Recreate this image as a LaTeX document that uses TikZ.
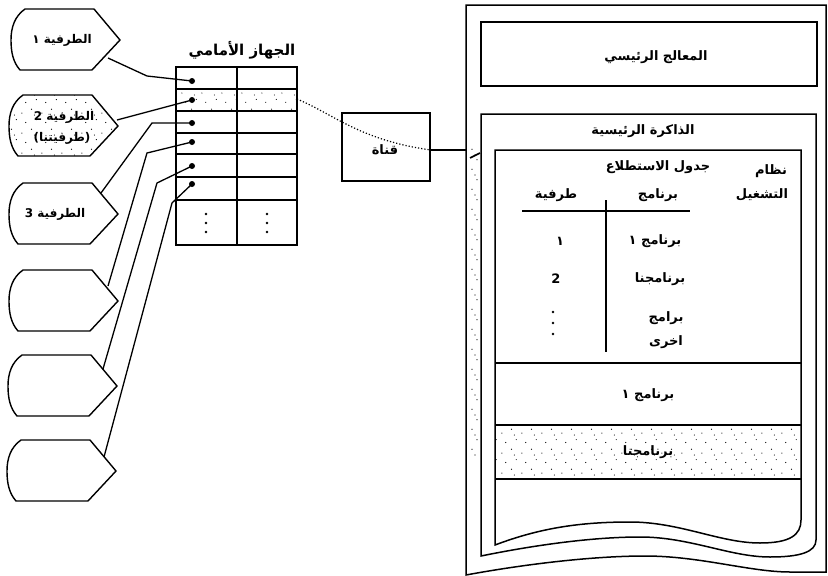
\documentclass[tikz,border=0pt]{standalone}
\usepackage{fontspec}
\usetikzlibrary{patterns}
\newfontfamily\arabicfont[Script=Arabic]{DejaVu Sans}
\TeXXeTstate=1
\newcommand{\AR}[1]{\beginR #1\endR}
\pgfdeclarepatternformonly{stipple}{\pgfqpoint{0pt}{0pt}}{\pgfqpoint{20pt}{20pt}}{\pgfqpoint{20pt}{20pt}}{%
  \pgfpathcircle{\pgfqpoint{2pt}{3pt}}{0.6pt}%
  \pgfpathcircle{\pgfqpoint{12pt}{7pt}}{0.6pt}%
  \pgfpathcircle{\pgfqpoint{6pt}{14pt}}{0.6pt}%
  \pgfpathcircle{\pgfqpoint{17pt}{17pt}}{0.6pt}%
  \pgfpathcircle{\pgfqpoint{15pt}{1pt}}{0.6pt}%
  \pgfusepath{fill}}
\tikzset{
  box/.style={draw, line width=1.5pt},
  ln/.style={line width=1.5pt},
  conn/.style={line width=1.3pt},
  lbl/.style={font=\arabicfont\bfseries\fontsize{13}{15}\selectfont, inner sep=0pt},
  tlbl/.style={font=\arabicfont\bfseries\fontsize{12}{14}\selectfont, inner sep=0pt},
  title/.style={font=\arabicfont\bfseries\fontsize{15}{18}\selectfont, inner sep=0pt},
  dotmark/.style={circle, fill, inner sep=0pt, minimum size=6pt},
  smalldot/.style={circle, fill, inner sep=0pt, minimum size=2.6pt},
  terminal/.pic={
    \draw[line width=1.4pt, pic actions] (92,-31) -- (118,0) -- (90,30) -- (18,30)
      .. controls (11,22) and (9,12) .. (9,0)
      .. controls (9,-13) and (13,-24) .. (23,-31) -- cycle;
  }
}
\begin{document}
\begin{tikzpicture}[x=1pt,y=-1pt]
\useasboundingbox (0,0) rectangle (828,576);

% ---------- terminals ----------
\pic at (2,40) {terminal};
\pic[pattern=stipple] at (0,126) {terminal};
\pic at (0,214) {terminal};
\pic at (0,301) {terminal};
\pic at (-1,386) {terminal};
\pic at (-2,471) {terminal};

\node[tlbl] (t1l) at (62,40) {\AR{الطرفية ١}};
\node[tlbl] (t2l) at (64,117) {\AR{الطرفية 2}};
\node[tlbl] (t2m) at (62,138) {\AR{(طرفيتنا)}};
\node[tlbl] (t3l) at (55,214) {\AR{الطرفية 3}};

% ---------- front end ----------
\node[title] (fet) at (242,50) {\AR{الجهاز الأمامي}};
\fill[pattern=stipple] (176,89) rectangle (297,111);
\node[box, minimum width=121pt, minimum height=178pt, inner sep=0pt] (fe) at (236.5,156) {};
\foreach \yy in {89,111,133,154,177,200} \draw[ln] (176,\yy) -- (297,\yy);
\draw[ln] (237,67) -- (237,245);
\foreach \xx in {206,267} \foreach \yy in {214,223,232} \node[smalldot] at (\xx,\yy) {};
\foreach \i/\yy in {1/81,2/100,3/123,4/142,5/166,6/184} \node[dotmark] (d\i) at (192,\yy) {};
\coordinate (fe2e) at (297,99);

% ---------- connectors terminals -> front end ----------
\coordinate (s1) at (108,58);
\coordinate (s2) at (117,120);
\coordinate (s3) at (101,193);
\coordinate (s4) at (108,286);
\coordinate (s5) at (103,369);
\coordinate (s6) at (104,457);
\draw[conn] (s1) -- (147,76) -- (d1.center);
\draw[conn] (s2) -- (d2.center);
\draw[conn] (s3) -- (152,123) -- (d3.center);
\draw[conn] (s4) -- (147,153) -- (d4.center);
\draw[conn] (s5) -- (157,183) -- (d5.center);
\draw[conn] (s6) -- (172,203) -- (d6.center);

% ---------- channel ----------
\node[box, minimum width=88pt, minimum height=68pt, inner sep=0pt] (chan) at (386,147) {};
\node[lbl] (chanl) at (385,150) {\AR{قناة}};
\coordinate (comp) at (466,150);
\draw[dotted, line width=1.2pt] (fe2e) .. controls (335,115) and (360,140) .. (chan.east |- comp);
\draw[conn] (chan.east |- comp) -- (comp);
\draw[line width=1.6pt] (470,158) -- (480,153);

% ---------- computer ----------
\fill[pattern=stipple] (467,145) rectangle (480,455);
\draw[box] (466,5) -- (826,5) -- (826,572) -- (790,572)
  .. controls (750,572) and (700,556) .. (645,556)
  .. controls (590,556) and (520,565) .. (466,575) -- cycle;

\node[box, minimum width=336pt, minimum height=64pt, inner sep=0pt] (cpu) at (649,54) {};
\node[lbl] (cpul) at (656,57) {\AR{المعالج الرئيسي}};

\draw[box] (481,556) -- (481,114) -- (816,114) -- (816,540)
  .. controls (816,552) and (800,557) .. (770,557)
  .. controls (730,557) and (690,537) .. (640,537)
  .. controls (590,537) and (530,546) .. (481,556) -- cycle;
\node[lbl] (meml) at (643,131) {\AR{الذاكرة الرئيسية}};

\fill[pattern=stipple] (495,425) rectangle (801,479);
\draw[box] (495,545) -- (495,150) -- (801,150) -- (801,520)
  .. controls (801,535) and (790,543) .. (760,543)
  .. controls (720,543) and (680,522) .. (630,522)
  .. controls (580,522) and (540,528) .. (495,545) -- cycle;
\draw[ln] (495,363) -- (801,363);
\draw[ln] (495,425) -- (801,425);
\draw[ln] (495,479) -- (801,479);

% OS + polling table
\node[lbl] (os1) at (771,171) {\AR{نظام}};
\node[lbl] (os2) at (762,195) {\AR{التشغيل}};
\node[lbl] (pt) at (658,167) {\AR{جدول الاستطلاع}};
\node[lbl] (hp) at (658,195) {\AR{برنامج}};
\node[lbl] (ht) at (556,195) {\AR{طرفية}};
\draw[ln] (522,211) -- (690,211);
\draw[ln] (606,200) -- (606,352);
\node[lbl] (r1p) at (655,241) {\AR{برنامج ١}};
\node[lbl] (r1t) at (560,241) {\AR{١}};
\node[lbl] (r2p) at (660,279) {\AR{برنامجنا}};
\node[lbl] (r2t) at (556,279) {2};
\foreach \yy in {312,323,334} \node[smalldot] at (553,\yy) {};
\node[lbl] (r3a) at (666,318) {\AR{برامج}};
\node[lbl] (r3b) at (666,342) {\AR{اخرى}};

\node[lbl] (p1) at (648,395) {\AR{برنامج ١}};
\node[lbl] (p2) at (648,452) {\AR{برنامجنا}};
\end{tikzpicture}
\end{document}
